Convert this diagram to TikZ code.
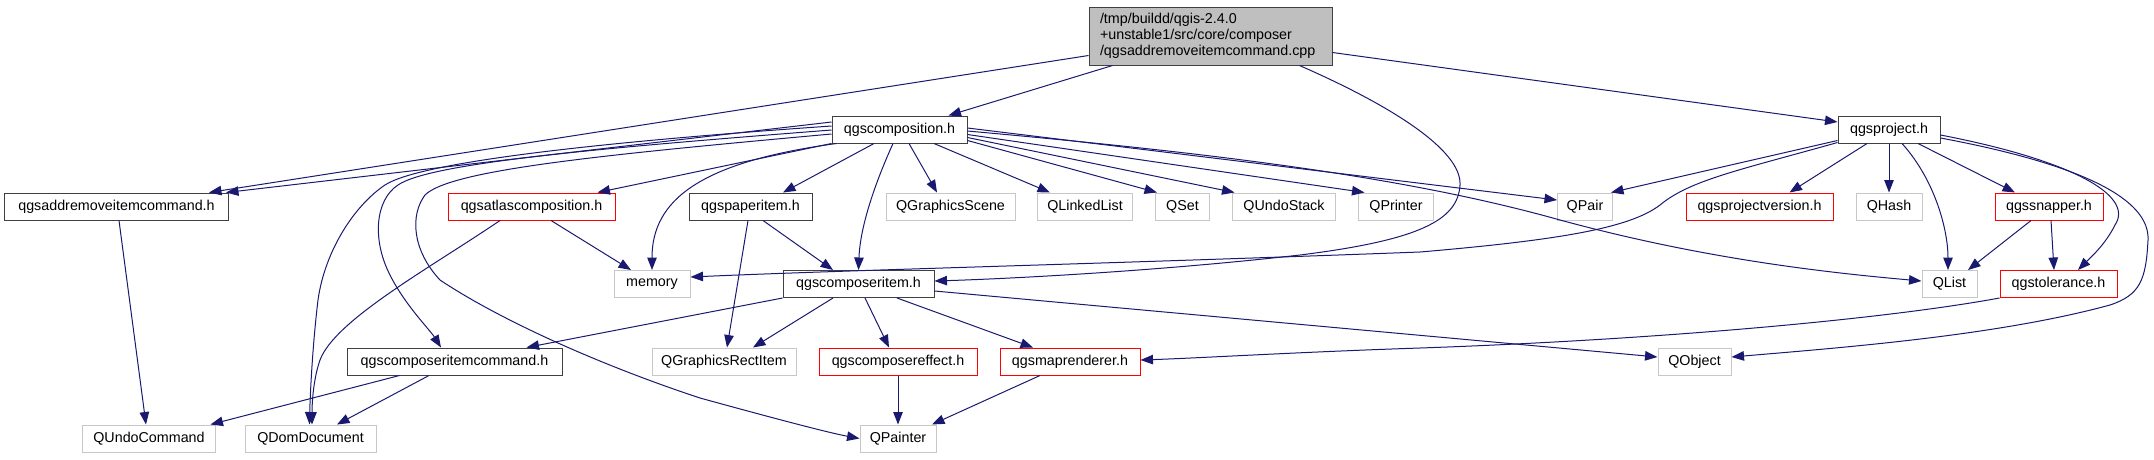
\documentclass[tikz,border=0pt]{standalone}
\usepackage{fontspec}
\setmainfont{Liberation Sans}
\usepackage{xcolor}
\usepackage{tikz}
\usetikzlibrary{arrows.meta}
\definecolor{edgeblue}{HTML}{191970}

\begin{document}
\begin{tikzpicture}[x=1pt, y=-1pt,
    >={Triangle[length=12.5pt, width=9.5pt]},
    hdr/.style={draw=black!75, line width=1pt, fill=white, inner sep=0pt,
        minimum height=27pt, font=\fontsize{14.3}{16}\selectfont},
    ext/.style={hdr, draw=black!22},
    trunc/.style={hdr, draw=red},
    dep/.style={->, draw=edgeblue, line width=1pt}]
    \useasboundingbox (0,0) rectangle (2154,459);

    % 1. Tệp gốc
    \node[hdr, fill=black!25, minimum height=58pt, text width=221pt, inner xsep=11pt, align=left]
        (root) at (1210.5,36) {/tmp/buildd/qgis-2.4.0\\+unstable1/src/core/composer\\/qgsaddremoveitemcommand.cpp};

    % 2. Các tệp được include trực tiếp
    \node[hdr, minimum width=135pt] (comp) at (899.5,129.5) {qgscomposition.h};
    \node[hdr, minimum width=102pt] (proj) at (1889,129.5) {qgsproject.h};

    % 3. Hàng thứ hai
    \node[hdr, minimum width=224pt] (addrem) at (116.5,206.5) {qgsaddremoveitemcommand.h};
    \node[trunc, minimum width=167pt] (atlas) at (531.5,206.5) {qgsatlascomposition.h};
    \node[hdr, minimum width=123pt] (paper) at (750.5,206.5) {qgspaperitem.h};
    \node[ext, minimum width=129pt] (gscene) at (950.5,206.5) {QGraphicsScene};
    \node[ext, minimum width=95pt] (llist) at (1085,206.5) {QLinkedList};
    \node[ext, minimum width=54pt] (qset) at (1182.5,206.5) {QSet};
    \node[ext, minimum width=103pt] (ustack) at (1284,206.5) {QUndoStack};
    \node[ext, minimum width=75pt] (printer) at (1396,206.5) {QPrinter};
    \node[ext, minimum width=55pt] (qpair) at (1585,206.5) {QPair};
    \node[trunc, minimum width=147pt] (projver) at (1759.5,206.5) {qgsprojectversion.h};
    \node[ext, minimum width=66pt] (qhash) at (1889,206.5) {QHash};
    \node[trunc, minimum width=108pt] (snapper) at (2049,206.5) {qgssnapper.h};

    % 4. Hàng thứ ba
    \node[ext, minimum width=76pt] (memory) at (652,284) {memory};
    \node[hdr, minimum width=151pt] (citem) at (858.5,284) {qgscomposeritem.h};
    \node[ext, minimum width=55pt] (qlist) at (1949.5,284) {QList};
    \node[trunc, minimum width=117pt] (toler) at (2058.5,284) {qgstolerance.h};

    % 5. Hàng thứ tư
    \node[hdr, minimum width=215pt] (citemcmd) at (454.5,361.5) {qgscomposeritemcommand.h};
    \node[ext, minimum width=144pt] (rectitem) at (724,361.5) {QGraphicsRectItem};
    \node[trunc, minimum width=158pt] (effect) at (898,361.5) {qgscomposereffect.h};
    \node[trunc, minimum width=140pt] (maprend) at (1070,361.5) {qgsmaprenderer.h};
    \node[ext, minimum width=73pt] (qobject) at (1694.5,361.5) {QObject};

    % 6. Hàng cuối
    \node[ext, minimum width=133pt] (undocmd) at (149,438.5) {QUndoCommand};
    \node[ext, minimum width=131pt] (domdoc) at (310.5,438.5) {QDomDocument};
    \node[ext, minimum width=76pt] (painter) at (898,438.5) {QPainter};

    % 7. Cạnh từ tệp gốc
    \draw[dep] ([yshift=10pt]root.south west) -- ([xshift=-20pt]addrem.north east);
    \draw[dep] ([xshift=24pt]root.south west) -- ([xshift=-19pt]comp.north east);
    \draw[dep] ([yshift=13pt]root.south east) -- ([yshift=7.5pt]proj.west);
    \draw[dep] ([xshift=-33pt]root.south east) .. controls (1390,105) and (1462,150) .. (1460,185)
        .. controls (1458,220) and (1420,240) .. (1300,255)
        .. controls (1150,272) and (1000,279) .. ([yshift=3pt]citem.east);

    % 8. Cạnh từ qgscomposition.h
    \draw[dep] ([yshift=7.5pt]comp.west) -- ([xshift=-3pt]addrem.north east);
    \draw[dep] (comp.south west) -- ([xshift=-18pt]atlas.north east);
    \draw[dep] ([xshift=5pt]comp.south west) .. controls (700,162) and (652,200) .. (memory.north);
    \draw[dep] ([yshift=-0.5pt]comp.west) .. controls (600,148) and (430,163) .. (398,185)
        .. controls (375,200) and (372,240) .. (390,275)
        .. controls (405,305) and (430,330) .. ([xshift=-13.5pt]citemcmd.north);
    \draw[dep] ([yshift=3.5pt]comp.west) .. controls (600,142) and (420,162) .. (385,185)
        .. controls (355,205) and (325,250) .. (318,300)
        .. controls (312,350) and (310,400) .. ([xshift=-1pt]domdoc.north);
    \draw[dep] ([yshift=-4.5pt]comp.west) .. controls (600,155) and (450,170) .. (425,195)
        .. controls (410,215) and (412,250) .. (440,280)
        .. controls (500,320) and (600,365) .. (700,398)
        .. controls (780,420) and (830,433) .. (painter.west);
    \draw[dep] ([xshift=-25.5pt]comp.south) -- ([xshift=32.5pt]paper.north);
    \draw[dep] ([xshift=-6.5pt]comp.south) .. controls (872,190) and (860,230) .. (citem.north);
    \draw[dep] ([xshift=9.5pt]comp.south) -- ([xshift=-13.5pt]gscene.north);
    \draw[dep] ([xshift=34.5pt]comp.south) -- ([xshift=-35pt]llist.north);
    \draw[dep] ([yshift=3pt]comp.south east) -- ([xshift=2pt]qset.north west);
    \draw[dep] ([yshift=6pt]comp.south east) -- ([xshift=2.5pt]ustack.north west);
    \draw[dep] ([yshift=9pt]comp.south east) -- ([xshift=6.5pt]printer.north west);
    \draw[dep] ([yshift=1.5pt]comp.east) -- ([yshift=6.5pt]qpair.west);
    \draw[dep] ([yshift=-1.5pt]comp.east) .. controls (1200,152) and (1400,175) .. (1560,220)
        .. controls (1700,258) and (1820,272) .. ([yshift=3pt]qlist.west);

    % 9. Cạnh từ qgsproject.h
    \draw[dep] ([yshift=3pt]proj.south west) -- ([xshift=-2pt]qpair.north east);
    \draw[dep] ([yshift=1pt]proj.south west) .. controls (1740,170) and (1690,180) .. (1660,205)
        .. controls (1630,228) and (1560,240) .. (1420,252)
        .. controls (1100,264) and (850,270) .. ([yshift=7pt]memory.east);
    \draw[dep] ([xshift=-22pt]proj.south) -- ([xshift=30pt]projver.north);
    \draw[dep] (proj.south) -- (qhash.north);
    \draw[dep] ([xshift=13pt]proj.south) .. controls (1935,180) and (1948,230) .. ([xshift=-1.5pt]qlist.north);
    \draw[dep] ([xshift=29pt]proj.south) -- ([xshift=-34pt]snapper.north);
    \draw[dep] ([yshift=-5.5pt]proj.east) .. controls (2070,160) and (2135,195) .. (2115,225)
        .. controls (2105,245) and (2090,258) .. ([xshift=19.5pt]toler.north);
    \draw[dep] ([yshift=-8.5pt]proj.east) .. controls (2085,165) and (2150,200) .. (2148,240)
        .. controls (2146,280) and (2140,295) .. (2110,305)
        .. controls (2000,335) and (1850,347) .. ([yshift=4.5pt]qobject.east);

    % 10. Các cạnh còn lại
    \draw[dep] ([xshift=-18pt]snapper.south) -- ([xshift=18.5pt]qlist.north);
    \draw[dep] ([xshift=2pt]snapper.south) -- ([xshift=-4.5pt]toler.north);
    \draw[dep] (toler.south west) .. controls (1880,320) and (1650,340) .. (1420,348)
        .. controls (1300,352) and (1200,358) .. ([yshift=1.5pt]maprend.east);
    \draw[dep] ([yshift=-7pt]citem.east) -- ([yshift=4.5pt]qobject.west);
    \draw[dep] ([xshift=19.5pt]atlas.south) -- ([xshift=-21pt]memory.north);
    \draw[dep] ([xshift=-31.5pt]atlas.south) .. controls (430,268) and (335,320) .. (320,360)
        .. controls (313,380) and (312,405) .. ([xshift=1.5pt]domdoc.north);
    \draw[dep] ([xshift=2.5pt]addrem.south) -- ([xshift=-3pt]undocmd.north);
    \draw[dep] ([xshift=-55pt]citemcmd.south) -- ([xshift=-5.5pt]undocmd.north east);
    \draw[dep] ([xshift=-25.5pt]citemcmd.south) -- ([xshift=26.5pt]domdoc.north);
    \draw[dep] ([xshift=12.5pt]paper.south) -- ([xshift=-25.5pt]citem.north);
    \draw[dep] ([xshift=-2.5pt]paper.south) -- ([xshift=3pt]rectitem.north);
    \draw[dep] (citem.south west) -- ([xshift=-36pt]citemcmd.north east);
    \draw[dep] ([xshift=-25.5pt]citem.south) -- ([xshift=29pt]rectitem.north);
    \draw[dep] ([xshift=6.5pt]citem.south) -- ([xshift=-9pt]effect.north);
    \draw[dep] ([xshift=38.5pt]citem.south) -- ([xshift=-37pt]maprend.north);
    \draw[dep] (effect.south) -- (painter.north);
    \draw[dep] ([xshift=-30pt]maprend.south) -- ([xshift=34pt]painter.north);
\end{tikzpicture}
\end{document}
